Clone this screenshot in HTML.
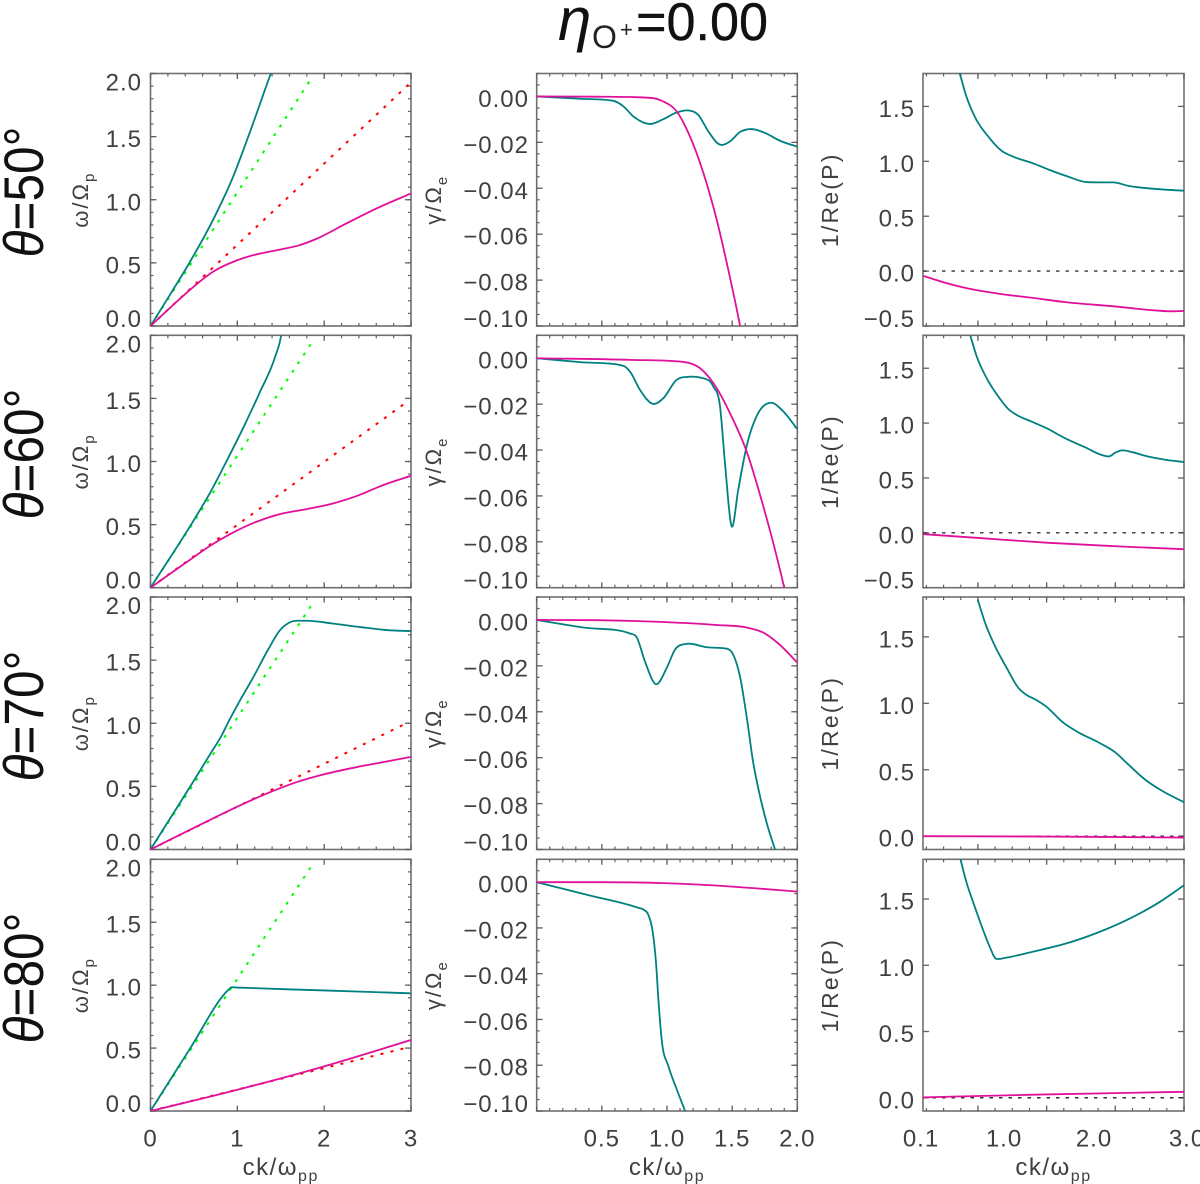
<!DOCTYPE html>
<html lang="en">
<head>
<meta charset="utf-8">
<title>Dispersion panels</title>
<style>
html,body{margin:0;padding:0;background:#fff;width:1200px;height:1184px;overflow:hidden}
svg{display:block}
text{font-family:"Liberation Sans",sans-serif;fill:#404040}
</style>
</head>
<body>
<svg id="figure" xmlns="http://www.w3.org/2000/svg" width="1200" height="1184" viewBox="0 0 1200 1184">
  <g>
    <text x="558" y="40" font-size="60" font-style="italic" style="fill:#111">η</text>
    <text x="592" y="48" font-size="32" style="fill:#222">O</text>
    <text x="620" y="37" font-size="22" style="fill:#222">+</text>
    <text x="636" y="40" font-size="53" textLength="132" lengthAdjust="spacingAndGlyphs" style="fill:#111;stroke:#111;stroke-width:0.4">=0.00</text>
  </g>
  <g id="panels"></g>
</svg>
<script>
const thetaLabels = ["θ=50°", "θ=60°", "θ=70°", "θ=80°"];

const freqFastK50 = [0, 0.222, 0.452, 0.72, 0.95, 1.14, 1.38, 1.45];
const freqFastW50 = [0, 0.245, 0.505, 0.84, 1.18, 1.526, 1.99, 2.12];
const freqSlowK50 = [0, 0.222, 0.452, 0.72, 0.95, 1.18, 1.487, 1.716, 1.91, 2.25, 2.6, 3];
const freqSlowW50 = [0, 0.142, 0.285, 0.43, 0.508, 0.56, 0.605, 0.64, 0.69, 0.81, 0.93, 1.05];
const freqGreenK50 = [0, 1.87];
const freqGreenW50 = [0, 1.98];
const freqRedK50 = [0, 3];
const freqRedW50 = [0, 1.93];

const freqFastK60 = [0, 0.26, 0.49, 0.7, 0.896, 1.07, 1.26, 1.435, 1.504, 1.52];
const freqFastW60 = [0, 0.275, 0.525, 0.77, 1.03, 1.27, 1.55, 1.83, 2.0, 2.08];
const freqSlowK60 = [0, 0.26, 0.49, 0.7, 0.915, 1.2, 1.49, 1.8, 2.1, 2.38, 2.68, 3];
const freqSlowW60 = [0, 0.127, 0.238, 0.338, 0.424, 0.517, 0.583, 0.623, 0.667, 0.728, 0.813, 0.887];
const freqGreenK60 = [0, 1.87];
const freqGreenW60 = [0, 1.955];
const freqRedK60 = [0, 2.95];
const freqRedW60 = [0, 1.47];

const freqFastK70 = [0, 0.26, 0.49, 0.7, 0.82, 0.896, 1.01, 1.185, 1.36, 1.49, 1.59, 1.685, 1.8, 2.108, 2.415, 2.72, 3];
const freqFastW70 = [0, 0.283, 0.535, 0.77, 0.904, 1.009, 1.155, 1.366, 1.59, 1.736, 1.794, 1.812, 1.812, 1.789, 1.762, 1.738, 1.73];
const freqSlowK70 = [0, 0.26, 0.49, 0.76, 1.07, 1.377, 1.685, 1.99, 2.377, 2.68, 3];
const freqSlowW70 = [0, 0.09, 0.168, 0.26, 0.362, 0.454, 0.534, 0.594, 0.653, 0.692, 0.734];
const freqGreenK70 = [0, 1.87];
const freqGreenW70 = [0, 1.952];
const freqRedK70 = [0, 2.946];
const freqRedW70 = [0, 1.0];

const freqFastK80 = [0, 0.45, 0.9, 0.93, 1.0, 2, 3];
const freqFastW80 = [0, 0.49, 0.965, 0.983, 0.981, 0.958, 0.935];
const freqSlowK80 = [0, 0.95, 1.985, 3];
const freqSlowW80 = [0, 0.16, 0.352, 0.564];
const freqGreenK80 = [0, 1.87];
const freqGreenW80 = [0, 1.963];
const freqRedK80 = [0, 2.97];
const freqRedW80 = [0, 0.506];

const dampFastK50 = [0, 0.332, 0.588, 0.665, 0.742, 0.87, 0.972, 1.074, 1.164, 1.24, 1.317, 1.407, 1.483, 1.56, 1.65, 1.752, 1.867, 2];
const dampFastG50 = [0, -0.001, -0.0019, -0.0043, -0.0087, -0.012, -0.0099, -0.007, -0.0061, -0.008, -0.0152, -0.021, -0.0196, -0.0155, -0.0142, -0.0159, -0.0193, -0.0219];
const dampSlowK50 = [0, 0.46, 0.87, 0.972, 1.074, 1.176, 1.279, 1.381, 1.47, 1.56, 1.61];
const dampSlowG50 = [0, -0.0001, -0.0006, -0.0022, -0.0065, -0.0174, -0.0333, -0.0536, -0.0754, -0.0997, -0.115];

const dampFastK60 = [0, 0.332, 0.665, 0.716, 0.793, 0.895, 0.972, 1.074, 1.164, 1.279, 1.355, 1.407, 1.445, 1.496, 1.547, 1.611, 1.7, 1.795, 1.893, 2];
const dampFastG60 = [0, -0.0017, -0.0033, -0.0058, -0.0138, -0.0199, -0.0174, -0.0094, -0.0081, -0.0087, -0.0123, -0.021, -0.0457, -0.0732, -0.0572, -0.0384, -0.0239, -0.0194, -0.0232, -0.0309];
const dampSlowK60 = [0, 0.716, 1.125, 1.253, 1.381, 1.483, 1.611, 1.739, 1.841, 1.905, 1.944];
const dampSlowG60 = [0, -0.0007, -0.0016, -0.0043, -0.013, -0.0239, -0.0406, -0.0645, -0.0862, -0.1014, -0.112];

const dampFastK70 = [0, 0.358, 0.716, 0.767, 0.831, 0.916, 0.997, 1.061, 1.151, 1.304, 1.458, 1.509, 1.56, 1.611, 1.662, 1.714, 1.765, 1.829, 1.867];
const dampFastG70 = [0, -0.0033, -0.0059, -0.0075, -0.0181, -0.028, -0.021, -0.013, -0.0104, -0.0119, -0.0125, -0.0152, -0.0246, -0.042, -0.0623, -0.0768, -0.0884, -0.1, -0.107];
const dampSlowK70 = [0, 0.46, 0.972, 1.381, 1.611, 1.739, 1.867, 2];
const dampSlowG70 = [0, -0.0001, -0.0009, -0.0022, -0.0033, -0.0055, -0.0109, -0.0186];

const dampFastK80 = [0, 0.4, 0.78, 0.82, 0.857, 0.89, 0.916, 0.934, 0.959, 1.01, 1.074, 1.138, 1.176];
const dampFastG80 = [0, -0.0057, -0.0112, -0.012, -0.0143, -0.0216, -0.0354, -0.0513, -0.0687, -0.0803, -0.0904, -0.0999, -0.1056];
const dampSlowK80 = [0, 0.51, 0.972, 1.355, 2];
const dampSlowG80 = [0, 0, -0.0004, -0.0014, -0.0041];

const polFastK50 = [0.47, 0.508, 0.582, 0.656, 0.841, 0.97, 1.1, 1.322, 1.507, 1.693, 1.915, 2.063, 2.21, 2.396, 2.618, 3];
const polFastP50 = [1.9, 1.8, 1.591, 1.439, 1.21, 1.098, 1.043, 0.982, 0.921, 0.866, 0.811, 0.808, 0.808, 0.774, 0.753, 0.732];
const polSlowK50 = [0.1, 0.322, 0.582, 0.952, 1.322, 1.693, 2.25, 2.618, 2.84, 3];
const polSlowP50 = [-0.043, -0.1, -0.155, -0.207, -0.244, -0.284, -0.323, -0.354, -0.366, -0.363];

const polFastK60 = [0.567, 0.623, 0.697, 0.808, 0.938, 1.05, 1.142, 1.309, 1.476, 1.68, 1.902, 2.087, 2.169, 2.236, 2.31, 2.42, 2.606, 2.792, 3];
const polFastP60 = [1.94, 1.804, 1.606, 1.408, 1.241, 1.126, 1.074, 1.013, 0.952, 0.861, 0.779, 0.709, 0.697, 0.73, 0.751, 0.736, 0.694, 0.666, 0.645];
const polSlowK60 = [0.1, 0.753, 1.494, 2.236, 3];
const polSlowP60 = [-0.012, -0.049, -0.091, -0.122, -0.149];

const polFastK70 = [0.708, 0.79, 0.9, 1.03, 1.16, 1.235, 1.364, 1.476, 1.642, 1.828, 2.05, 2.236, 2.384, 2.57, 2.755, 3];
const polFastP70 = [1.781, 1.606, 1.43, 1.266, 1.116, 1.07, 1.023, 0.972, 0.864, 0.781, 0.706, 0.631, 0.538, 0.425, 0.342, 0.256];
const polSlowK70 = [0.1, 1.49, 3];
const polSlowP70 = [0, -0.0025, -0.01];

const polFastK80 = [0.489, 0.519, 0.582, 0.656, 0.748, 0.841, 0.915, 1.027, 1.324, 1.694, 2.065, 2.436, 2.733, 3];
const polFastP80 = [1.9, 1.797, 1.629, 1.479, 1.303, 1.14, 1.048, 1.058, 1.103, 1.165, 1.253, 1.366, 1.479, 1.604];
const polSlowK80 = [0.1, 1.324, 3];
const polSlowP80 = [0.003, 0.023, 0.045];

const freqSeries = [
  {fk: freqFastK50, fv: freqFastW50, sk: freqSlowK50, sv: freqSlowW50, gk: freqGreenK50, gv: freqGreenW50, rk: freqRedK50, rv: freqRedW50},
  {fk: freqFastK60, fv: freqFastW60, sk: freqSlowK60, sv: freqSlowW60, gk: freqGreenK60, gv: freqGreenW60, rk: freqRedK60, rv: freqRedW60},
  {fk: freqFastK70, fv: freqFastW70, sk: freqSlowK70, sv: freqSlowW70, gk: freqGreenK70, gv: freqGreenW70, rk: freqRedK70, rv: freqRedW70},
  {fk: freqFastK80, fv: freqFastW80, sk: freqSlowK80, sv: freqSlowW80, gk: freqGreenK80, gv: freqGreenW80, rk: freqRedK80, rv: freqRedW80}
];
const dampSeries = [
  {fk: dampFastK50, fv: dampFastG50, sk: dampSlowK50, sv: dampSlowG50},
  {fk: dampFastK60, fv: dampFastG60, sk: dampSlowK60, sv: dampSlowG60},
  {fk: dampFastK70, fv: dampFastG70, sk: dampSlowK70, sv: dampSlowG70},
  {fk: dampFastK80, fv: dampFastG80, sk: dampSlowK80, sv: dampSlowG80}
];
const polSeries = [
  {fk: polFastK50, fv: polFastP50, sk: polSlowK50, sv: polSlowP50},
  {fk: polFastK60, fv: polFastP60, sk: polSlowK60, sv: polSlowP60},
  {fk: polFastK70, fv: polFastP70, sk: polSlowK70, sv: polSlowP70},
  {fk: polFastK80, fv: polFastP80, sk: polSlowK80, sv: polSlowP80}
];

const freqYTicks = [0, 0.5, 1, 1.5, 2];
const dampYTicks = [0, -0.02, -0.04, -0.06, -0.08, -0.1];
const polYTicksWide = [-0.5, 0, 0.5, 1, 1.5];
const polYTicksNarrow = [0, 0.5, 1, 1.5];
const freqXTicks = [0, 1, 2, 3];
const dampXTicks = [0.5, 1, 1.5, 2];
const polXTicks = [0.1, 1, 2, 3];

const NS = "http://www.w3.org/2000/svg";
const rowTop = [73.5, 335.3, 597, 859.3];
const rowBottom = [326, 587.7, 849.5, 1111];
const root = document.getElementById("panels");

function make(tag, attrs, parent, txt) {
  const e = document.createElementNS(NS, tag);
  for (const a in attrs) e.setAttribute(a, attrs[a]);
  if (txt !== undefined) e.textContent = txt;
  parent.appendChild(e);
  return e;
}
function scale(d0, d1, p0, p1) {
  return v => p0 + (v - d0) * (p1 - p0) / (d1 - d0);
}
function curvePath(xs, ys, sx, sy) {
  const px = xs.map(sx), py = ys.map(sy), n = px.length;
  if (n === 2) return "M" + px[0] + " " + py[0] + "L" + px[1] + " " + py[1];
  const m = [], dl = [], hs = [];
  for (let i = 0; i < n - 1; i++) {
    hs.push(px[i + 1] - px[i]);
    dl.push((py[i + 1] - py[i]) / hs[i]);
  }
  m[0] = dl[0]; m[n - 1] = dl[n - 2];
  for (let i = 1; i < n - 1; i++) {
    const a = dl[i - 1], b = dl[i], h0 = hs[i - 1], h1 = hs[i];
    let t = (h1 * a + h0 * b) / (h0 + h1);
    const lim = (a * b > 0 ? 3 : 1) * Math.min(Math.abs(a), Math.abs(b));
    if (Math.abs(t) > lim) t = Math.sign(t) * lim;
    m[i] = t;
  }
  let d = "M" + px[0].toFixed(2) + " " + py[0].toFixed(2);
  for (let i = 0; i < n - 1; i++) {
    const h = hs[i] / 3;
    d += "C" + (px[i] + h).toFixed(2) + " " + (py[i] + m[i] * h).toFixed(2) + " " +
      (px[i + 1] - h).toFixed(2) + " " + (py[i + 1] - m[i + 1] * h).toFixed(2) + " " +
      px[i + 1].toFixed(2) + " " + py[i + 1].toFixed(2);
  }
  return d;
}
function tickLine(g, x1, y1, x2, y2, w) {
  const t = make("line", {x1: x1, y1: y1, x2: x2, y2: y2, stroke: "#606060", "stroke-width": w}, g);
  
  
}
function fmt(v, digits) {
  const s = Math.abs(v).toFixed(digits);
  return (v < 0 ? "−" : "") + s;
}
function stepValues(anchor, step, lo, hi) {
  const out = [];
  const n0 = Math.ceil((lo - anchor) / step - 1e-6), n1 = Math.floor((hi - anchor) / step + 1e-6);
  for (let n = n0; n <= n1; n++) out.push(anchor + n * step);
  return out;
}
function drawSeries(g, xs, ys, sx, sy, color, width, dash, clipId, name) {
  const attrs = {d: curvePath(xs, ys, sx, sy), fill: "none", stroke: color, "stroke-width": width, "clip-path": "url(#" + clipId + ")", "stroke-linejoin": "round"};
  if (dash) attrs["stroke-dasharray"] = dash;
  const p = make("path", attrs, g);
  
  
}
function drawPanel(r, c, spec) {
  const top = rowTop[r], bot = rowBottom[r], x0 = spec.x0, x1 = spec.x1;
  const g = make("g", {}, root);
  
  
  const sx = scale(spec.xDom[0], spec.xDom[1], x0, x1);
  const sy = scale(spec.yDom[0], spec.yDom[1], bot, top);
  const clipId = "clip-" + r + "-" + c;
  const cp = make("clipPath", {id: clipId}, g);
  make("rect", {x: x0, y: top, width: x1 - x0, height: bot - top}, cp);

  const box = make("rect", {x: x0, y: top, width: x1 - x0, height: bot - top, fill: "none", stroke: "#707070", "stroke-width": 1.6}, g);
  
  

  if (spec.xMinor) stepValues(spec.xAnchor, spec.xMinor, spec.xDom[0], spec.xDom[1]).forEach(v => {
    tickLine(g, sx(v), bot, sx(v), bot - 3, 1.2);
    tickLine(g, sx(v), top, sx(v), top + 3, 1.2);
  });
  stepValues(spec.xAnchor, spec.xMajor, spec.xDom[0], spec.xDom[1]).forEach(v => {
    tickLine(g, sx(v), bot, sx(v), bot - 5.5, 1.3);
    tickLine(g, sx(v), top, sx(v), top + 5.5, 1.3);
  });
  if (spec.yMinor) stepValues(0, spec.yMinor, spec.yDom[0], spec.yDom[1]).forEach(v => {
    tickLine(g, x0, sy(v), x0 + 3, sy(v), 1.2);
    tickLine(g, x1, sy(v), x1 - 3, sy(v), 1.2);
  });
  spec.yTicks.forEach(v => {
    tickLine(g, x0, sy(v), x0 + 6, sy(v), 1.3);
    tickLine(g, x1, sy(v), x1 - 6, sy(v), 1.3);
  });

  spec.yTicks.forEach(v => {
    const cy = Math.max(top + 8.5, Math.min(bot - 7.5, sy(v) + 2));
    const t = make("text", {x: spec.labelX, y: cy + 8.5, "text-anchor": "end", "font-size": 24, "letter-spacing": 1}, g, fmt(v, spec.yDigits));
    
    
  });

  const cy = (top + bot) / 2;
  const title = make("text", {transform: "translate(" + spec.titleX + "," + cy + ") rotate(-90)", "text-anchor": "middle", "font-size": spec.titleSize, "letter-spacing": spec.titleSpacing}, g);
  
  
  make("tspan", {}, title, spec.titleMain);
  if (spec.titleSub) make("tspan", {dy: 6, "font-size": 15}, title, spec.titleSub);

  if (spec.dashedZero) {
    const z = make("line", {x1: x0, x2: x1, y1: sy(0), y2: sy(0), stroke: "#333", "stroke-width": 1.4, "stroke-dasharray": "3.5 6"}, g);
    
    
  }
  const s = spec.data[r];
  if (s.gk) {
    drawSeries(g, s.gk, s.gv, sx, sy, "#00ff00", 2, "3 7.3", clipId, "green-dotted-asymptote");
    drawSeries(g, s.rk, s.rv, sx, sy, "#ff0000", 2, "3 7.3", clipId, "red-dotted-asymptote");
  }
  drawSeries(g, s.fk, s.fv, sx, sy, "#008080", 1.8, null, clipId, "teal-mode-curve");
  drawSeries(g, s.sk, s.sv, sx, sy, "#e0109a", 1.8, null, clipId, "magenta-mode-curve");

  if (r === 3) {
    spec.xTicks.forEach(v => {
      const t = make("text", {x: sx(v) + spec.xLabelShift(v), y: 1146.5, "text-anchor": "middle", "font-size": 24, "letter-spacing": 1}, g, v.toFixed(spec.xDigits));
      
      
    });
    const xt = make("text", {x: (x0 + x1) / 2, y: 1175, "text-anchor": "middle", "font-size": 24, "letter-spacing": 1.5}, g);
    
    
    make("tspan", {}, xt, "ck/ω");
    make("tspan", {dy: 6, "font-size": 16}, xt, "pp");
  }
}

thetaLabels.forEach((label, r) => {
  const cy = [192, 454, 716, 978][r];
  const t = make("text", {transform: "translate(43," + cy + ") rotate(-90)", "text-anchor": "middle", "font-size": 56, textLength: 131, lengthAdjust: "spacingAndGlyphs"}, root);
  
  
  t.style.fill = "#111";
  const th = make("tspan", {"font-style": "italic"}, t, label.charAt(0));
  
  
  make("tspan", {}, t, label.slice(1));

  drawPanel(r, 0, {
    name: "frequency", x0: 150.5, x1: 411, xDom: [0, 3], yDom: [0, 2],
    xAnchor: 0, xMajor: 1, xMinor: r === 3 ? 0 : 0.2, yMinor: 0.1, yTicks: freqYTicks, yDigits: 1,
    labelX: 142, titleX: 88, titleSize: 22, titleSpacing: 2, titleMain: "ω/Ω", titleSub: "p",
    data: freqSeries, xTicks: freqXTicks, xDigits: 0, xLabelShift: () => 0
  });
  drawPanel(r, 1, {
    name: "damping", x0: 536.7, x1: 797.3, xDom: [0, 2], yDom: [-0.1, 0.01],
    xAnchor: 0, xMajor: 0.5, xMinor: 0.1, yMinor: 0.005, yTicks: dampYTicks, yDigits: 2,
    labelX: 529, titleX: 441, titleSize: 22, titleSpacing: 2, titleMain: "γ/Ω", titleSub: "e",
    data: dampSeries, xTicks: dampXTicks, xDigits: 1, xLabelShift: () => 0
  });
  drawPanel(r, 2, {
    name: "polarization", x0: 923, x1: 1184, xDom: [0.1, 3], yDom: r < 2 ? [-0.5, 1.8] : [-0.1, 1.8],
    xAnchor: 3, xMajor: 0.7632, xMinor: 0.1908, yMinor: 0, yTicks: r < 2 ? polYTicksWide : polYTicksNarrow, yDigits: 1,
    labelX: 915, titleX: 838, titleSize: 23, titleSpacing: 2.2, titleMain: "1/Re(P)", titleSub: "",
    dashedZero: true,
    data: polSeries, xTicks: polXTicks, xDigits: 1, xLabelShift: v => (v === 0.1 ? -2 : v === 3 ? 3 : 0)
  });
});
</script>
</body>
</html>
